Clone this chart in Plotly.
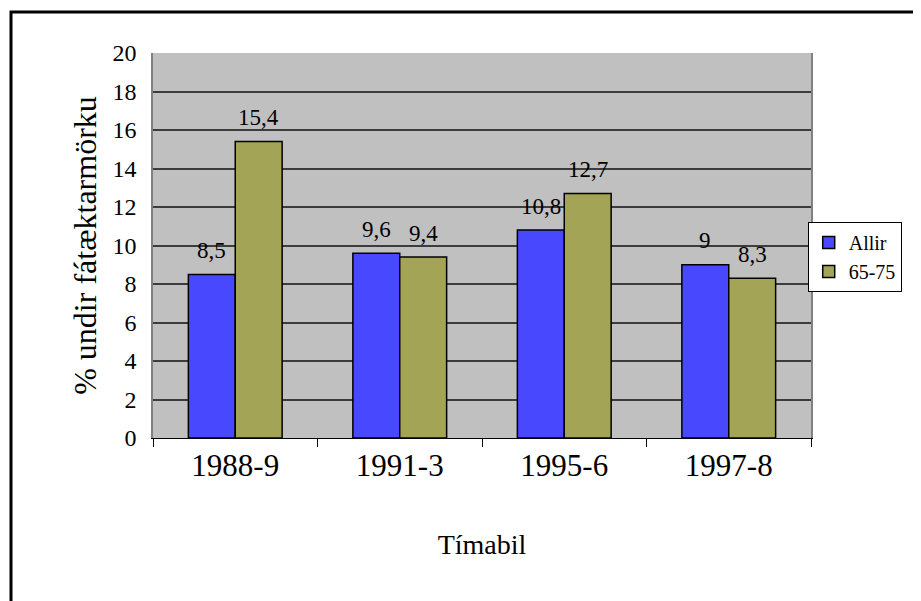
import plotly.graph_objects as go

# data
periods = ["1988-9", "1991-3", "1995-6", "1997-8"]
allir = [8.5, 9.6, 10.8, 9.0]
aldur_65_75 = [15.4, 9.4, 12.7, 8.3]

y_ticks = list(range(0, 21, 2))


def lbl(v):
    # Icelandic decimal comma, no trailing ",0"
    return ("%g" % v).replace(".", ",")


FONT = "Liberation Serif, Times New Roman, serif"

fig = go.Figure()

fig.add_trace(go.Bar(
    x=periods, y=allir, name="Allir",
    marker=dict(color="#4848ff", line=dict(color="black", width=1.5)),
))
fig.add_trace(go.Bar(
    x=periods, y=aldur_65_75, name="65-75",
    marker=dict(color="#a4a456", line=dict(color="black", width=1.5)),
))

# value labels sitting above each bar, Excel style
for i, p in enumerate(periods):
    for vals, shift in ((allir, -23.5), (aldur_65_75, 23.5)):
        fig.add_annotation(
            x=p, y=vals[i], text=lbl(vals[i]), showarrow=False,
            xshift=shift, yshift=24, font=dict(family=FONT, size=23, color="black"),
        )

# outer chart frame (runs off the right and bottom edge like the original)
fig.add_shape(type="rect", xref="paper", yref="paper",
              x0=-0.2158, x1=1.2, y0=-0.45, y1=1.1065,
              line=dict(color="black", width=3), fillcolor="rgba(0,0,0,0)", layer="below")

# the page body adds 8px, so margins are trimmed by that much
fig.update_layout(
    width=921, height=601,
    margin=dict(l=145, r=118, t=45, b=171),
    paper_bgcolor="white",
    plot_bgcolor="#c0c0c0",
    barmode="group",
    bargap=0.43,
    bargroupgap=0,
    font=dict(family=FONT, color="black"),
    showlegend=True,
    legend=dict(
        x=0.995, y=0.47, xanchor="left", yanchor="middle",
        bgcolor="white", bordercolor="black", borderwidth=1,
        font=dict(family=FONT, size=20), tracegroupgap=0,
        itemwidth=30,
    ),
    xaxis=dict(
        type="category",
        title=dict(text="Tímabil", font=dict(family=FONT, size=28), standoff=52),
        tickfont=dict(family=FONT, size=31),
        showline=True, linecolor="black", linewidth=1,
        ticks="outside", tickson="boundaries", ticklen=8, tickcolor="black",
        mirror=False, showgrid=False,
    ),
    yaxis=dict(
        title=dict(text="% undir fátæktarmörku", font=dict(family=FONT, size=32), standoff=6),
        range=[0, 20], tickvals=y_ticks, tickfont=dict(family=FONT, size=24),
        ticklabelstandoff=10,
        showline=True, linecolor="#808080", linewidth=1.5, mirror=True,
        ticks="", showgrid=True, gridcolor="#3c3c3c", gridwidth=1.5,
        zeroline=False,
    ),
)

fig.write_html("out.html")
